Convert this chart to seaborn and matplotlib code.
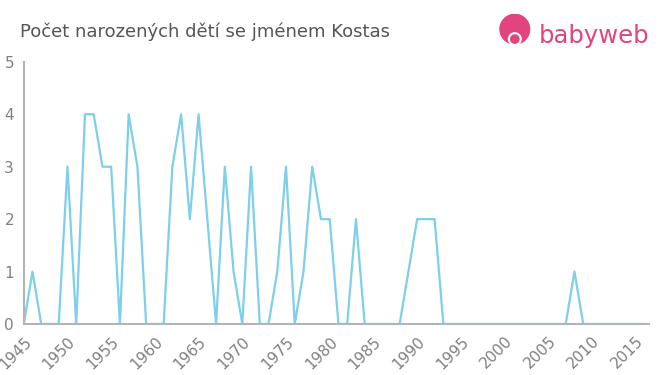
import numpy as np
import pandas as pd
import seaborn as sns
from matplotlib import pyplot as plt
from matplotlib.patches import Circle

TITLE = 'Počet narozených dětí se jménem Kostas'
LINE_COLOR = '#7dcfea'
AXIS_COLOR = '#b4b4b4'
TEXT_COLOR = '#808080'
PINK = '#e2447f'

years = list(range(1945, 2017))
counts = [
    0, 1, 0, 0, 0, 3, 0, 4, 4, 3,   # 1945-1954
    3, 0, 4, 3, 0, 0, 0, 3, 4, 2,   # 1955-1964
    4, 2, 0, 3, 1, 0, 3, 0, 0, 1,   # 1965-1974
    3, 0, 1, 3, 2, 2, 0, 0, 2, 0,   # 1975-1984
    0, 0, 0, 0, 1, 2, 2, 2, 0, 0,   # 1985-1994
    0, 0, 0, 0, 0, 0, 0, 0, 0, 0,   # 1995-2004
    0, 0, 0, 1, 0, 0, 0, 0, 0, 0,   # 2005-2014
    0, 0,                           # 2015-2016
]
x_ticks = list(range(1945, 2016, 5))
y_ticks = [0, 1, 2, 3, 4, 5]

df = pd.DataFrame({'year': years, 'count': counts})

sns.set_style('white')
plt.rcParams['font.family'] = ['DejaVu Sans']

fig = plt.figure(figsize=(6.6, 3.75), dpi=100)
ax = fig.add_axes([0.036, 0.136, 0.947, 0.699])

sns.lineplot(data=df, x='year', y='count', ax=ax, color=LINE_COLOR, linewidth=1.6)

ax.set_xlim(1945, 2016.5)
ax.set_ylim(0, 5)
ax.set_xticks(x_ticks)
ax.set_xticklabels([str(y) for y in x_ticks], rotation=45, ha='right',
                   rotation_mode='anchor', fontsize=11, color=TEXT_COLOR)
ax.set_yticks(y_ticks)
ax.set_yticklabels([str(v) for v in y_ticks], fontsize=11, color=TEXT_COLOR)
ax.set_xlabel('')
ax.set_ylabel('')

for side in ['top', 'right']:
    ax.spines[side].set_visible(False)
for side in ['left', 'bottom']:
    ax.spines[side].set_color(AXIS_COLOR)
    ax.spines[side].set_linewidth(1.5)
ax.tick_params(axis='x', colors=AXIS_COLOR, length=5, width=1, pad=2, labelcolor=TEXT_COLOR)
ax.tick_params(axis='y', colors=AXIS_COLOR, length=4, width=1, pad=3, labelcolor=TEXT_COLOR)

fig.text(0.03, 0.915, TITLE, fontsize=13, color='#555555', va='center', ha='left')

# logo
logo = fig.add_axes([0.755, 0.87, 0.05, 0.1])
logo.set_xlim(-1, 1)
logo.set_ylim(-1, 1)
logo.set_aspect('equal')
logo.axis('off')
logo.add_patch(Circle((0, 0.05), 0.9, color=PINK))
logo.add_patch(Circle((0, -0.55), 0.38, color='white'))
logo.add_patch(Circle((0, -0.55), 0.25, color=PINK))
fig.text(0.816, 0.905, 'babyweb', fontsize=17.5, color=PINK, va='center', ha='left')

fig.savefig('out.png', dpi=100)
